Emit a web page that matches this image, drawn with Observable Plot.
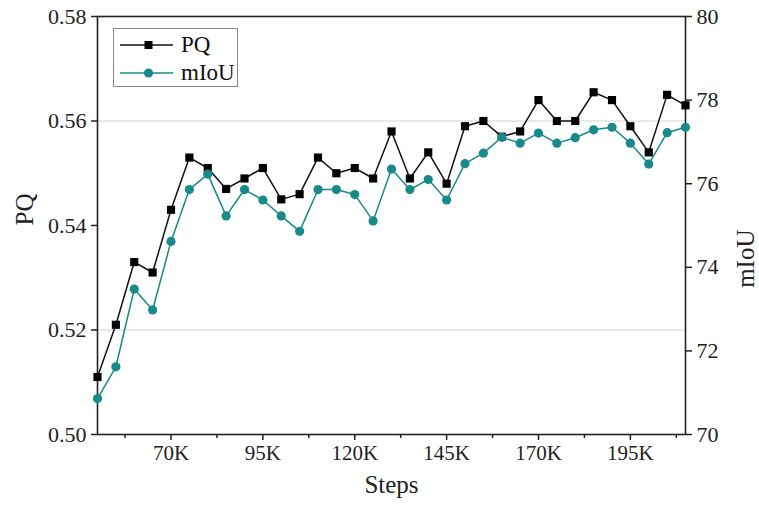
<!DOCTYPE html>
<html>
<head>
<meta charset="utf-8">
<script src="https://cdn.jsdelivr.net/npm/d3@7"></script>
<script src="https://cdn.jsdelivr.net/npm/@observablehq/plot@0.6"></script>
<style>
  html, body { margin: 0; padding: 0; background: #fff; }
  #wrap { position: relative; width: 759px; height: 506px; }
  #legend { position: absolute; left: 113px; top: 28px; width: 125px; height: 59px;
            border: 1px solid #8a8a8a; background: #fff; font-family: "Liberation Serif", serif;
            font-size: 23px; color: #111; box-sizing: border-box; }
  #legend .row { position: absolute; left: 0; height: 28px; display: flex; align-items: center; }
  #legend svg { display: block; }
</style>
</head>
<body>
<div id="wrap"></div>
<script>
// Data (steps in thousands)
const steps = [50, 55, 60, 65, 70, 75, 80, 85, 90, 95, 100, 105, 110, 115, 120, 125, 130,
               135, 140, 145, 150, 155, 160, 165, 170, 175, 180, 185, 190, 195, 200, 205, 210];
const pq = [0.511, 0.521, 0.533, 0.531, 0.543, 0.553, 0.551, 0.547, 0.549, 0.551, 0.545,
            0.546, 0.553, 0.550, 0.551, 0.549, 0.558, 0.549, 0.554, 0.548, 0.559, 0.560,
            0.557, 0.558, 0.564, 0.560, 0.560, 0.5655, 0.564, 0.559, 0.554, 0.565, 0.563];
const miou = [70.86, 71.62, 73.48, 72.98, 74.62, 75.86, 76.23, 75.23, 75.86, 75.61, 75.23,
              74.86, 75.86, 75.86, 75.74, 75.11, 76.35, 75.86, 76.10, 75.61, 76.48, 76.73,
              77.11, 76.97, 77.21, 76.97, 77.10, 77.29, 77.35, 76.97, 76.47, 77.22, 77.35];
const xTicks = [70, 95, 120, 145, 170, 195];
const xMinorTicks = [57.5, 82.5, 107.5, 132.5, 157.5, 182.5, 207.5];
const pqTicks = [0.50, 0.52, 0.54, 0.56, 0.58];
const miouTicks = [70, 72, 74, 76, 78, 80];
const gridPQ = [0.52, 0.56];

const pqDomain = [0.50, 0.58];
const miouDomain = [70, 80];
const toPQ = m => pqDomain[0] + (m - miouDomain[0]) * (pqDomain[1] - pqDomain[0]) / (miouDomain[1] - miouDomain[0]);
const toMiou = v => miouDomain[0] + (v - pqDomain[0]) * (miouDomain[1] - miouDomain[0]) / (pqDomain[1] - pqDomain[0]);

const rows = steps.map((s, i) => ({step: s, pq: pq[i], miou: miou[i]}));
const teal = "#188a8a";

const chart = Plot.plot({
  width: 759,
  height: 506,
  marginLeft: 97,
  marginRight: 74,
  marginTop: 16,
  marginBottom: 72,
  style: {fontFamily: "'Liberation Serif', 'Times New Roman', serif", fontSize: "21px", color: "#222", background: "#fff"},
  x: {domain: [50, 210]},
  y: {domain: pqDomain},
  marks: [
    Plot.gridY(gridPQ, {stroke: "#d4d4d4", strokeOpacity: 1, strokeWidth: 1.2}),
    Plot.axisX(xMinorTicks, {tickSize: 4, tickFormat: () => "", strokeWidth: 1.5, label: null}),
    Plot.axisX(xTicks, {tickSize: 6, tickPadding: 5, tickFormat: d => d + "K", strokeWidth: 1.5, label: null}),
    Plot.axisY(pqTicks, {anchor: "left", tickSize: 6, tickPadding: 5, fontSize: 22, tickFormat: d => d.toFixed(2), strokeWidth: 1.5, label: null}),
    Plot.axisY(miouTicks.map(toPQ), {anchor: "right", tickSize: 6, tickPadding: 5, fontSize: 22, tickFormat: d => String(Math.round(toMiou(d))), strokeWidth: 1.5, label: null}),
    Plot.frame({stroke: "#222", strokeWidth: 1.6}),
    Plot.line(rows, {x: "step", y: "pq", stroke: "#111", strokeWidth: 1.5}),
    Plot.dot(rows, {x: "step", y: "pq", symbol: "square", r: 4.6, fill: "#000", stroke: "none"}),
    Plot.line(rows, {x: "step", y: d => toPQ(d.miou), stroke: teal, strokeWidth: 1.5}),
    Plot.dot(rows, {x: "step", y: d => toPQ(d.miou), symbol: "circle", r: 4.6, fill: teal, stroke: "none"}),
    Plot.text(["PQ"], {frameAnchor: "left", dx: -73, rotate: -90, fontSize: 25, fill: "#222"}),
    Plot.text(["mIoU"], {frameAnchor: "right", dx: 60, dy: 4, rotate: -90, fontSize: 25, fill: "#222"}),
    Plot.text(["Steps"], {frameAnchor: "bottom", dy: 58, fontSize: 25, fill: "#222"})
  ]
});

const wrap = document.getElementById("wrap");
wrap.appendChild(chart);

const legend = document.createElement("div");
legend.id = "legend";
legend.innerHTML = `
  <div class="row" style="top:2px">
    <svg width="60" height="28" style="margin-left:6px"><line x1="0" y1="14" x2="53" y2="14" stroke="#111" stroke-width="1.5"/><rect x="24.5" y="10" width="8" height="8" fill="#000"/></svg>
    <span style="margin-left:1px">PQ</span>
  </div>
  <div class="row" style="top:30px">
    <svg width="60" height="28" style="margin-left:6px"><line x1="0" y1="14" x2="53" y2="14" stroke="${teal}" stroke-width="1.5"/><circle cx="28.5" cy="14" r="4.6" fill="${teal}"/></svg>
    <span style="margin-left:1px">mIoU</span>
  </div>`;
wrap.appendChild(legend);
</script>
</body>
</html>
